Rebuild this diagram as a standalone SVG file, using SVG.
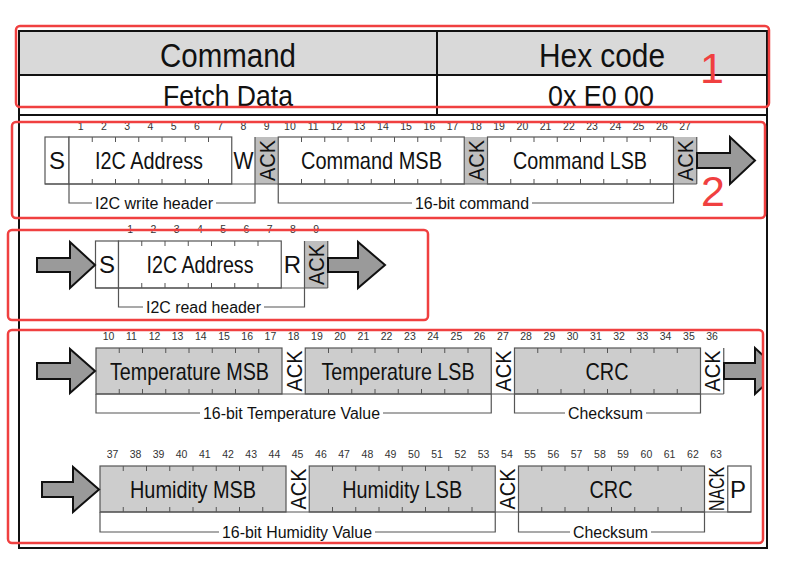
<svg xmlns="http://www.w3.org/2000/svg" width="795" height="570" viewBox="0 0 795 570">
<style>
text{font-family:"Liberation Sans",Arial,sans-serif;fill:#111}
.hd{font-size:34px;text-anchor:middle}
.rw{font-size:29px;text-anchor:middle}
.lb{font-size:24px;text-anchor:middle}
.ack{font-size:22px;text-anchor:middle}
.br{font-size:16px;text-anchor:middle}
.num{font-size:10.5px;text-anchor:middle;fill:#333}
.red{font-size:43px;text-anchor:middle;fill:#f04040}
.box{stroke:#555;stroke-width:1.2}
.w{fill:#fff}
.g{fill:#cdcdcd}
.ga{fill:#bebebe}
.ln{fill:none;stroke:#555;stroke-width:1.2}
.tk{fill:none;stroke:#555;stroke-width:1}
.arr{fill:#9a9a9a;stroke:#111;stroke-width:2;stroke-linejoin:miter}
.rb{fill:none;stroke:#f04040;stroke-width:2.5}
</style>
<defs>
<clipPath id="clipR"><rect x="0" y="0" width="764" height="570"/></clipPath>
</defs>
<rect x="0" y="0" width="795" height="570" fill="#fff"/>

<g id="table">
<rect x="19" y="31" width="748" height="44" fill="#d9d9d9"/>
<rect x="19" y="31" width="748" height="517" fill="none" stroke="#111" stroke-width="2"/>
<line x1="19" y1="75" x2="767" y2="75" stroke="#111" stroke-width="2"/>
<line x1="19" y1="115" x2="767" y2="115" stroke="#111" stroke-width="2"/>
<line x1="437" y1="31" x2="437" y2="115" stroke="#111" stroke-width="2"/>
<text class="hd" x="228" y="66.5" textLength="136" lengthAdjust="spacingAndGlyphs">Command</text>
<text class="hd" x="602" y="66.5" textLength="126" lengthAdjust="spacingAndGlyphs">Hex code</text>
<text class="rw" x="228" y="105.5" textLength="130" lengthAdjust="spacingAndGlyphs">Fetch Data</text>
<text class="rw" x="601" y="105.5" textLength="106" lengthAdjust="spacingAndGlyphs">0x E0 00</text>
</g>

<g id="write-header">
<rect class="box w" x="45" y="137" width="24" height="47"/>
<rect class="box w" x="69" y="137" width="162.75" height="47"/>
<rect class="ga" x="255" y="137" width="23.25" height="47"/>
<rect class="ga" x="464.25" y="137" width="23.25" height="47"/>
<rect class="ga" x="673.5" y="137" width="23.25" height="47"/>
<rect class="box w" x="278.25" y="137" width="186" height="47"/>
<rect class="box w" x="487.5" y="137" width="186" height="47"/>
<path class="ln" d="M45,184H696.75M255,137V184M696.75,137V184"/>
<path class="tk" d="M92.25,137v5M115.5,137v5M138.75,137v5M162,137v5M185.25,137v5M208.5,137v5M92.25,184v-5M115.5,184v-5M138.75,184v-5M162,184v-5M185.25,184v-5M208.5,184v-5
M301.5,137v5M324.75,137v5M348,137v5M371.25,137v5M394.5,137v5M417.75,137v5M441,137v5M301.5,184v-5M324.75,184v-5M348,184v-5M371.25,184v-5M394.5,184v-5M417.75,184v-5M441,184v-5
M510.75,137v5M534,137v5M557.25,137v5M580.5,137v5M603.75,137v5M627,137v5M650.25,137v5M510.75,184v-5M534,184v-5M557.25,184v-5M580.5,184v-5M603.75,184v-5M627,184v-5M650.25,184v-5"/>
<text class="lb" x="57" y="169">S</text>
<text class="lb" x="149" y="169" textLength="108" lengthAdjust="spacingAndGlyphs">I2C Address</text>
<text class="lb" x="243.4" y="169" textLength="20" lengthAdjust="spacingAndGlyphs">W</text>
<text class="ack" transform="translate(274.5,160.5) rotate(-90)" textLength="41" lengthAdjust="spacingAndGlyphs">ACK</text>
<text class="lb" x="371.5" y="169" textLength="141" lengthAdjust="spacingAndGlyphs">Command MSB</text>
<text class="ack" transform="translate(483.8,160.5) rotate(-90)" textLength="41" lengthAdjust="spacingAndGlyphs">ACK</text>
<text class="lb" x="580" y="169" textLength="134" lengthAdjust="spacingAndGlyphs">Command LSB</text>
<text class="ack" transform="translate(693,160.5) rotate(-90)" textLength="41" lengthAdjust="spacingAndGlyphs">ACK</text>
<text class="num" y="130"><tspan x="80.6">1</tspan><tspan x="103.9">2</tspan><tspan x="127.1">3</tspan><tspan x="150.4">4</tspan><tspan x="173.6">5</tspan><tspan x="196.9">6</tspan><tspan x="220.1">7</tspan><tspan x="243.4">8</tspan><tspan x="266.6">9</tspan><tspan x="289.9">10</tspan><tspan x="313.1">11</tspan><tspan x="336.4">12</tspan><tspan x="359.6">13</tspan><tspan x="382.9">14</tspan><tspan x="406.1">15</tspan><tspan x="429.4">16</tspan><tspan x="452.6">17</tspan><tspan x="475.9">18</tspan><tspan x="499.1">19</tspan><tspan x="522.4">20</tspan><tspan x="545.6">21</tspan><tspan x="568.9">22</tspan><tspan x="592.1">23</tspan><tspan x="615.4">24</tspan><tspan x="638.6">25</tspan><tspan x="661.9">26</tspan><tspan x="685.1">27</tspan></text>
</g>

<g id="read-header">
<rect class="box w" x="95.5" y="241" width="23" height="47"/>
<rect class="box w" x="118.5" y="241" width="162.75" height="47"/>
<rect class="ga" x="304.5" y="241" width="23.25" height="47"/>
<path class="ln" d="M95.5,288H327.75M304.5,241V288M327.75,241V288"/>
<path class="tk" d="M141.75,241v5M165,241v5M188.25,241v5M211.5,241v5M234.75,241v5M258,241v5M141.75,288v-5M165,288v-5M188.25,288v-5M211.5,288v-5M234.75,288v-5M258,288v-5"/>
<text class="lb" x="107" y="273">S</text>
<text class="lb" x="200" y="273" textLength="107" lengthAdjust="spacingAndGlyphs">I2C Address</text>
<text class="lb" x="292.5" y="273">R</text>
<text class="ack" transform="translate(324,264.5) rotate(-90)" textLength="41" lengthAdjust="spacingAndGlyphs">ACK</text>
<text class="num" y="233"><tspan x="130.1">1</tspan><tspan x="153.4">2</tspan><tspan x="176.6">3</tspan><tspan x="199.9">4</tspan><tspan x="223.1">5</tspan><tspan x="246.4">6</tspan><tspan x="269.6">7</tspan><tspan x="292.9">8</tspan><tspan x="316.1">9</tspan></text>
</g>

<g id="temperature">
<rect class="box g" x="96" y="348" width="186" height="46"/>
<rect class="box g" x="305.25" y="348" width="186" height="46"/>
<rect class="box g" x="514.5" y="348" width="186" height="46"/>
<path class="ln" d="M96,394H723.75M723.75,348V394"/>
<path class="tk" d="M119.25,348v5M142.5,348v5M165.75,348v5M189,348v5M212.25,348v5M235.5,348v5M258.75,348v5M119.25,394v-5M142.5,394v-5M165.75,394v-5M189,394v-5M212.25,394v-5M235.5,394v-5M258.75,394v-5
M328.5,348v5M351.75,348v5M375,348v5M398.25,348v5M421.5,348v5M444.75,348v5M468,348v5M328.5,394v-5M351.75,394v-5M375,394v-5M398.25,394v-5M421.5,394v-5M444.75,394v-5M468,394v-5
M537.75,348v5M561,348v5M584.25,348v5M607.5,348v5M630.75,348v5M654,348v5M677.25,348v5M537.75,394v-5M561,394v-5M584.25,394v-5M607.5,394v-5M630.75,394v-5M654,394v-5M677.25,394v-5"/>
<text class="lb" x="189.5" y="379.5" textLength="159" lengthAdjust="spacingAndGlyphs">Temperature MSB</text>
<text class="ack" transform="translate(301.5,371) rotate(-90)" textLength="41" lengthAdjust="spacingAndGlyphs">ACK</text>
<text class="lb" x="398" y="379.5" textLength="153" lengthAdjust="spacingAndGlyphs">Temperature LSB</text>
<text class="ack" transform="translate(510.8,371) rotate(-90)" textLength="41" lengthAdjust="spacingAndGlyphs">ACK</text>
<text class="lb" x="607" y="379.5" textLength="43" lengthAdjust="spacingAndGlyphs">CRC</text>
<text class="ack" transform="translate(720,371) rotate(-90)" textLength="41" lengthAdjust="spacingAndGlyphs">ACK</text>
<text class="num" y="340"><tspan x="108.5">10</tspan><tspan x="131.5">11</tspan><tspan x="154.5">12</tspan><tspan x="177.6">13</tspan><tspan x="200.8">14</tspan><tspan x="224">15</tspan><tspan x="247.2">16</tspan><tspan x="270.4">17</tspan><tspan x="293.6">18</tspan><tspan x="316.9">19</tspan><tspan x="340.1">20</tspan><tspan x="363.4">21</tspan><tspan x="386.6">22</tspan><tspan x="409.9">23</tspan><tspan x="433.1">24</tspan><tspan x="456.4">25</tspan><tspan x="479.6">26</tspan><tspan x="502.9">27</tspan><tspan x="526.1">28</tspan><tspan x="549.4">29</tspan><tspan x="572.6">30</tspan><tspan x="595.9">31</tspan><tspan x="619.1">32</tspan><tspan x="642.4">33</tspan><tspan x="665.6">34</tspan><tspan x="688.9">35</tspan><tspan x="712.1">36</tspan></text>
</g>

<g id="humidity">
<rect class="box g" x="100" y="466" width="186" height="46"/>
<rect class="box g" x="309.25" y="466" width="186" height="46"/>
<rect class="box g" x="518.5" y="466" width="186" height="46"/>
<rect class="box w" x="727.75" y="466" width="23.25" height="46"/>
<path class="ln" d="M100,512H751"/>
<path class="tk" d="M123.25,466v5M146.5,466v5M169.75,466v5M193,466v5M216.25,466v5M239.5,466v5M262.75,466v5M123.25,512v-5M146.5,512v-5M169.75,512v-5M193,512v-5M216.25,512v-5M239.5,512v-5M262.75,512v-5
M332.5,466v5M355.75,466v5M379,466v5M402.25,466v5M425.5,466v5M448.75,466v5M472,466v5M332.5,512v-5M355.75,512v-5M379,512v-5M402.25,512v-5M425.5,512v-5M448.75,512v-5M472,512v-5
M541.75,466v5M565,466v5M588.25,466v5M611.5,466v5M634.75,466v5M658,466v5M681.25,466v5M541.75,512v-5M565,512v-5M588.25,512v-5M611.5,512v-5M634.75,512v-5M658,512v-5M681.25,512v-5"/>
<text class="lb" x="193" y="497.5" textLength="126" lengthAdjust="spacingAndGlyphs">Humidity MSB</text>
<text class="ack" transform="translate(305.5,489) rotate(-90)" textLength="41" lengthAdjust="spacingAndGlyphs">ACK</text>
<text class="lb" x="402.25" y="497.5" textLength="120" lengthAdjust="spacingAndGlyphs">Humidity LSB</text>
<text class="ack" transform="translate(514.8,489) rotate(-90)" textLength="41" lengthAdjust="spacingAndGlyphs">ACK</text>
<text class="lb" x="611" y="497.5" textLength="43" lengthAdjust="spacingAndGlyphs">CRC</text>
<text class="ack" transform="translate(724,489) rotate(-90)" textLength="44" lengthAdjust="spacingAndGlyphs">NACK</text>
<text class="lb" x="738" y="497.5">P</text>
<text class="num" y="458"><tspan x="112.5">37</tspan><tspan x="135.5">38</tspan><tspan x="158.5">39</tspan><tspan x="181.6">40</tspan><tspan x="204.8">41</tspan><tspan x="228">42</tspan><tspan x="251.2">43</tspan><tspan x="274.4">44</tspan><tspan x="297.6">45</tspan><tspan x="320.9">46</tspan><tspan x="344.1">47</tspan><tspan x="367.4">48</tspan><tspan x="390.6">49</tspan><tspan x="413.9">50</tspan><tspan x="437.1">51</tspan><tspan x="460.4">52</tspan><tspan x="483.6">53</tspan><tspan x="506.9">54</tspan><tspan x="530.1">55</tspan><tspan x="553.4">56</tspan><tspan x="576.6">57</tspan><tspan x="599.9">58</tspan><tspan x="623.1">59</tspan><tspan x="646.4">60</tspan><tspan x="669.6">61</tspan><tspan x="692.9">62</tspan><tspan x="716.1">63</tspan></text>
</g>

<g id="connectors">
<path class="ln" d="M69,184V203H92M216,203H255V184"/>
<path class="ln" d="M278.25,184V203H412M532,203H673.5V184"/>
<path class="ln" d="M118.5,288V307H143M264,307H304.5V288"/>
<path class="ln" d="M96,394V413H200M383,413H491.25V394"/>
<path class="ln" d="M514.5,394V413H565M646,413H700.5V394"/>
<path class="ln" d="M100,512V532H219M375,532H495.25V512"/>
<path class="ln" d="M518.5,512V532H570M651,532H704.5V512"/>
<text class="br" x="154" y="208.5" textLength="118" lengthAdjust="spacingAndGlyphs">I2C write header</text>
<text class="br" x="472" y="208.5" textLength="114" lengthAdjust="spacingAndGlyphs">16-bit command</text>
<text class="br" x="203.5" y="312.5" textLength="115" lengthAdjust="spacingAndGlyphs">I2C read header</text>
<text class="br" x="291.5" y="418.5" textLength="177" lengthAdjust="spacingAndGlyphs">16-bit Temperature Value</text>
<text class="br" x="605.5" y="418.5" textLength="75" lengthAdjust="spacingAndGlyphs">Checksum</text>
<text class="br" x="297" y="537.5" textLength="150" lengthAdjust="spacingAndGlyphs">16-bit Humidity Value</text>
<text class="br" x="610.5" y="537.5" textLength="75" lengthAdjust="spacingAndGlyphs">Checksum</text>
<path class="arr" d="M697,153H730V137L755,160.5L730,184V168H697Z"/>
<path class="arr" d="M37,258H70V242L95,265L70,288V272H37Z"/>
<path class="arr" d="M328,258H358V242L385,265L358,288V272H328Z"/>
<path class="arr" d="M37,363H70V349L95,371L70,393V379H37Z"/>
<path class="arr" clip-path="url(#clipR)" d="M724,363H755V348L780,371L755,394V379H724Z"/>
<path class="arr" d="M42,482H73V467L99,489.5L73,512V497H42Z"/>
</g>

<g id="highlights">
<rect class="rb" x="16" y="26" width="753" height="81" rx="4"/>
<rect class="rb" x="12" y="122" width="753" height="96" rx="4"/>
<rect class="rb" x="8" y="230" width="420" height="90" rx="4"/>
<rect class="rb" x="8" y="330" width="755" height="213" rx="4"/>
<text class="red" x="712" y="83">1</text>
<text class="red" x="713" y="206">2</text>
</g>
</svg>
